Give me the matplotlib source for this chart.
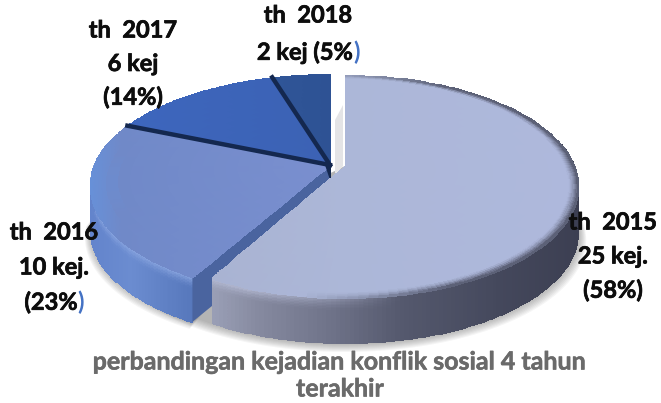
import numpy as np
import matplotlib
matplotlib.use("Agg")
import matplotlib.pyplot as plt
import matplotlib.patheffects as pe
from matplotlib.colors import to_rgb

plt.rcParams['font.family'] = ['Lato', 'DejaVu Sans']

# kejadian per tahun
years = ["2015", "2016", "2017", "2018"]
events = [25, 10, 6, 2]
total = sum(events)

caption = ["perbandingan kejadian konflik sosial 4 tahun", "terakhir"]

# sudut tiap irisan, mulai dari atas searah jarum jam (derajat)
edges = 90 - np.cumsum([0] + events) / total * 360.0

K = 0.184
RY = 107.7
DEPTH = 45
BIG_C = (345, 166)
REST_C = (330, 165)
RX_BIG = 229
RX_REST = 236


def project(theta, r, c, rx):
    t = np.radians(theta)
    u = r * np.cos(t)
    v = r * np.sin(t)
    d = 1 + K * v
    return c[0] + rx * u / d, c[1] - RY * v / d


def ramp(x, xs, cols):
    cols = np.array([to_rgb(h) for h in cols])
    return np.stack([np.interp(x, xs, cols[:, i]) for i in range(3)], axis=-1)


def top_face(ax, a0, a1, c, rx, xs, cols, rim=None, z=2):
    th = np.linspace(a0, a1, 100)
    rr = np.r_[np.linspace(0, 0.94, 20), np.linspace(0.95, 1, 12)]
    T, R = np.meshgrid(th, rr)
    X, Y = project(T, R, c, rx)
    xm = 0.25 * (X[:-1, :-1] + X[1:, :-1] + X[:-1, 1:] + X[1:, 1:])
    C = ramp(xm, xs, cols)
    if rim is not None:
        # bagian tepi kanan sedikit kabur ke warna sisi
        rm = 0.5 * (R[:-1, :-1] + R[1:, :-1])
        w = np.clip((rm - 0.96) / 0.04, 0, 1)[..., None] ** 1.5
        w = w * np.clip((xm - 300) / 150.0, 0, 1)[..., None]
        C = C * (1 - w) + np.array(to_rgb(rim)) * w
    ax.pcolormesh(X, Y, C, edgecolors='face', linewidth=0.4, zorder=z)


def side_face(ax, a0, a1, c, rx, xs, cols, light, dark_x=None, z=1):
    th = np.linspace(a0, a1, 140)
    dd = np.linspace(0, 1, 31)
    T, D = np.meshgrid(th, dd)
    X, Y = project(T, 1.0, c, rx)
    Y = Y + D * DEPTH
    xm = 0.25 * (X[:-1, :-1] + X[1:, :-1] + X[:-1, 1:] + X[1:, 1:])
    dm = 0.5 * (D[:-1, :-1] + D[1:, :-1])
    C = ramp(xm, xs, cols)
    w = np.clip(1 - dm / 0.28, 0, 1)[..., None] ** 1.5
    if dark_x is not None:
        w = w * np.clip((dark_x - xm) / 150.0, 0, 1)[..., None]
    C = C * (1 - w) + np.array(to_rgb(light)) * w
    ax.pcolormesh(X, Y, C, edgecolors='face', linewidth=0.4, zorder=z)


fig = plt.figure(figsize=(6.61, 4.03), dpi=100)
ax = fig.add_axes([0, 0, 1, 1])
ax.set_xlim(0, 661)
ax.set_ylim(403, 0)
ax.axis('off')

# bayangan
th = np.linspace(-150, 10, 120)
for g in range(1, 10):
    x, y = project(th, 1.0, BIG_C, RX_BIG + g * 0.9)
    ax.fill(np.r_[x, BIG_C[0]], np.r_[y + DEPTH + g, BIG_C[1]], color='#444444',
            alpha=0.05, lw=0, zorder=0)
th = np.linspace(edges[1], -175, 80)
for g in range(1, 8):
    x, y = project(th, 1.0, REST_C, RX_REST + g * 0.7)
    ax.fill(np.r_[x, REST_C[0]], np.r_[y + DEPTH + g, REST_C[1]], color='#444444',
            alpha=0.05, lw=0, zorder=0)

# dinding kiri irisan terbesar, terlihat di celah
xw, yw = project(90.0, 1.0, BIG_C, RX_BIG)
ax.fill([xw - 10, xw - 2, xw - 2, xw - 10], [yw + 45, yw + 30, BIG_C[1], BIG_C[1] + 10],
        color='#e4e4e6', lw=0, zorder=0.5)

# irisan 2016-2018
side_face(ax, edges[1], -190, REST_C, RX_REST,
          [90, 130, 197], ['#6384cc', '#6b8cd0', '#5576ba'], '#8ea9e2')
# sisi potongan 2016
xr, yr = project(edges[1], 1.0, REST_C, RX_REST)
ax.fill([REST_C[0], xr, xr, REST_C[0]],
        [REST_C[1], yr, yr + DEPTH, REST_C[1] + DEPTH],
        color='#4a649f', lw=0, zorder=1.5)
top_face(ax, edges[1], edges[2], REST_C, RX_REST, [90, 120, 330],
         ['#6790d8', '#7089c8', '#7a8fcf'])
top_face(ax, edges[2], edges[3], REST_C, RX_REST, [130, 330], ['#3d66bd', '#3c62b4'])
top_face(ax, edges[3], edges[4], REST_C, RX_REST, [275, 330], ['#2f5597', '#2e5294'])

for a in edges[2:4]:
    x, y = project(a, 1.0, REST_C, RX_REST)
    ax.plot([REST_C[0], x], [REST_C[1], y], color='#14284f', lw=3.2, zorder=3)
ax.fill([REST_C[0] - 5, REST_C[0] + 1, REST_C[0] + 1], [REST_C[1], REST_C[1], REST_C[1] + 18],
        color='#14284f', lw=0, zorder=3)

# irisan 2015
side_face(ax, edges[1], 12, BIG_C, RX_BIG,
          [212, 260, 330, 400, 500, 578],
          ['#9a9fb6', '#85899f', '#6f7389', '#55596e', '#44485c', '#3c3f52'],
          '#b6bcd6', dark_x=400, z=4)
top_face(ax, edges[0], edges[1], BIG_C, RX_BIG, [212, 344, 578],
         ['#a9b3d2', '#acb7d8', '#aeb8dc'], rim='#55596e', z=5)

# label: tanda ")" biru digambar terpisah
label_lines = [
    ("th  %s" % years[0], "%d kej." % events[0], "(%d%%)" % round(events[0] / total * 100)),
    ("th  %s" % years[1], "%d kej." % events[1], "(%d%%" % round(events[1] / total * 100)),
    ("th  %s" % years[2], "%d kej" % events[2], "(%d%%)" % round(events[2] / total * 100)),
    ("th  %s" % years[3], "%d kej (%d%%" % (events[3], round(events[3] / total * 100))),
]
label_x = [613, 54, 133, 308]
label_y = [222, 232, 30, 15]
label_gap = [34, 35, 33.5, 37]
blue_paren = [False, True, False, True]
stroke = [pe.withStroke(linewidth=0.5, foreground='#0d0d0d')]

for lines, lx, ly, gap, blue in zip(label_lines, label_x, label_y, label_gap, blue_paren):
    for i, s in enumerate(lines):
        last = blue and i == len(lines) - 1
        t = ax.text(lx - (3 if last else 0), ly + i * gap, s, ha='center', va='center',
                    fontsize=17, fontweight='bold', color='#0d0d0d', zorder=8,
                    path_effects=stroke)
        if last:
            ax.annotate(")", xy=(1, 0), xycoords=t, ha='left', va='bottom',
                        fontsize=17, fontweight='bold', color='#4472c4', zorder=8)

for i, s in enumerate(caption):
    ax.text(340, 362 + i * 27, s, ha='center', va='center', fontsize=18,
            fontweight='bold', color='#6a6a6a', zorder=8,
            path_effects=[pe.withStroke(linewidth=0.4, foreground='#6a6a6a')])

fig.savefig("out.png", dpi=100)
